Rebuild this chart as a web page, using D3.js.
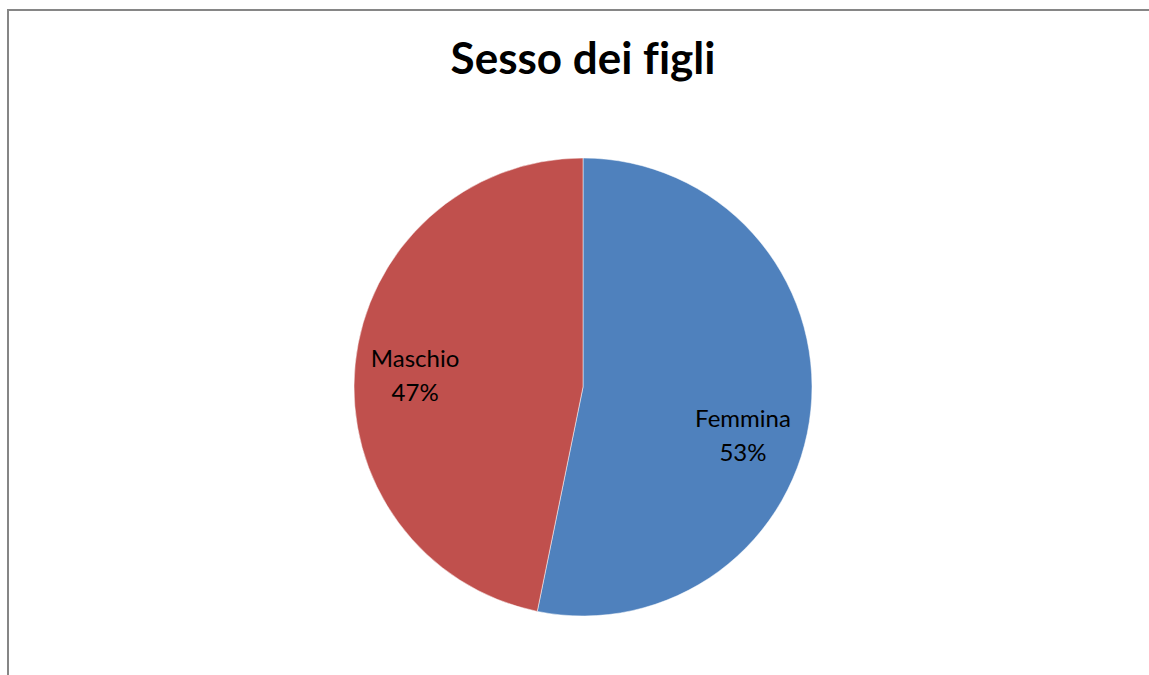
<!DOCTYPE html>
<html>
<head>
<meta charset="utf-8">
<script src="https://cdn.jsdelivr.net/npm/d3@7"></script>
<style>
  body { margin: 0; background: #fff; }
  svg { display: block; }
  text { font-variant-ligatures: none; font-feature-settings: "liga" 0; }
</style>
</head>
<body>
<div id="chart"></div>
<script>
// chart data
const categories = ["Femmina", "Maschio"];
const values = [53.2, 46.8];
const percentLabels = ["53%", "47%"];
const colors = ["#4f81bd", "#c0504d"];

const width = 1149;
const height = 675;
const center = { x: 583, y: 387 };
const radius = 229;

const svg = d3
  .select("#chart")
  .append("svg")
  .attr("width", width)
  .attr("height", height);

// chart frame (extends beyond the window on right and bottom)
svg
  .append("rect")
  .attr("x", 8)
  .attr("y", 10)
  .attr("width", width + 20)
  .attr("height", height + 20)
  .attr("fill", "none")
  .attr("stroke", "#868686")
  .attr("stroke-width", 2);

svg
  .append("text")
  .attr("x", center.x)
  .attr("y", 74)
  .attr("text-anchor", "middle")
  .attr("font-family", "Lato, sans-serif")
  .attr("font-weight", "bold")
  .attr("font-size", "44px")
  .attr("fill", "#000")
  .text("Sesso dei figli");

const data = categories.map((c, i) => ({ name: c, value: values[i], pct: percentLabels[i], color: colors[i] }));

const pie = d3.pie().value((d) => d.value).sort(null);
const arc = d3.arc().innerRadius(0).outerRadius(radius);

const arcs = pie(data);

const g = svg.append("g").attr("transform", `translate(${center.x},${center.y})`);

g.selectAll("path")
  .data(arcs)
  .enter()
  .append("path")
  .attr("d", arc)
  .attr("fill", (d) => d.data.color)
  .attr("stroke", "#fff")
  .attr("stroke-width", 0.5);

// label positions: point at a fraction of the radius, nudged to Excel "best fit"
const labelRadius = [0.73, 0.735];
const labelNudge = [11.1, -1.9]; // degrees
const labels = g
  .selectAll("text")
  .data(arcs)
  .enter()
  .append("text")
  .attr("text-anchor", "middle")
  .attr("font-family", "Lato, sans-serif")
  .attr("font-size", "24px")
  .attr("fill", "#000")
  .attr("transform", (d, i) => {
    const a = (d.startAngle + d.endAngle) / 2 + (labelNudge[i] * Math.PI) / 180;
    const r = radius * labelRadius[i];
    return `translate(${Math.sin(a) * r},${-Math.cos(a) * r - 8.5})`;
  });

labels.append("tspan").attr("x", 0).attr("y", 0).text((d) => d.data.name);
labels.append("tspan").attr("x", 0).attr("dy", 34).text((d) => d.data.pct);
</script>
</body>
</html>
